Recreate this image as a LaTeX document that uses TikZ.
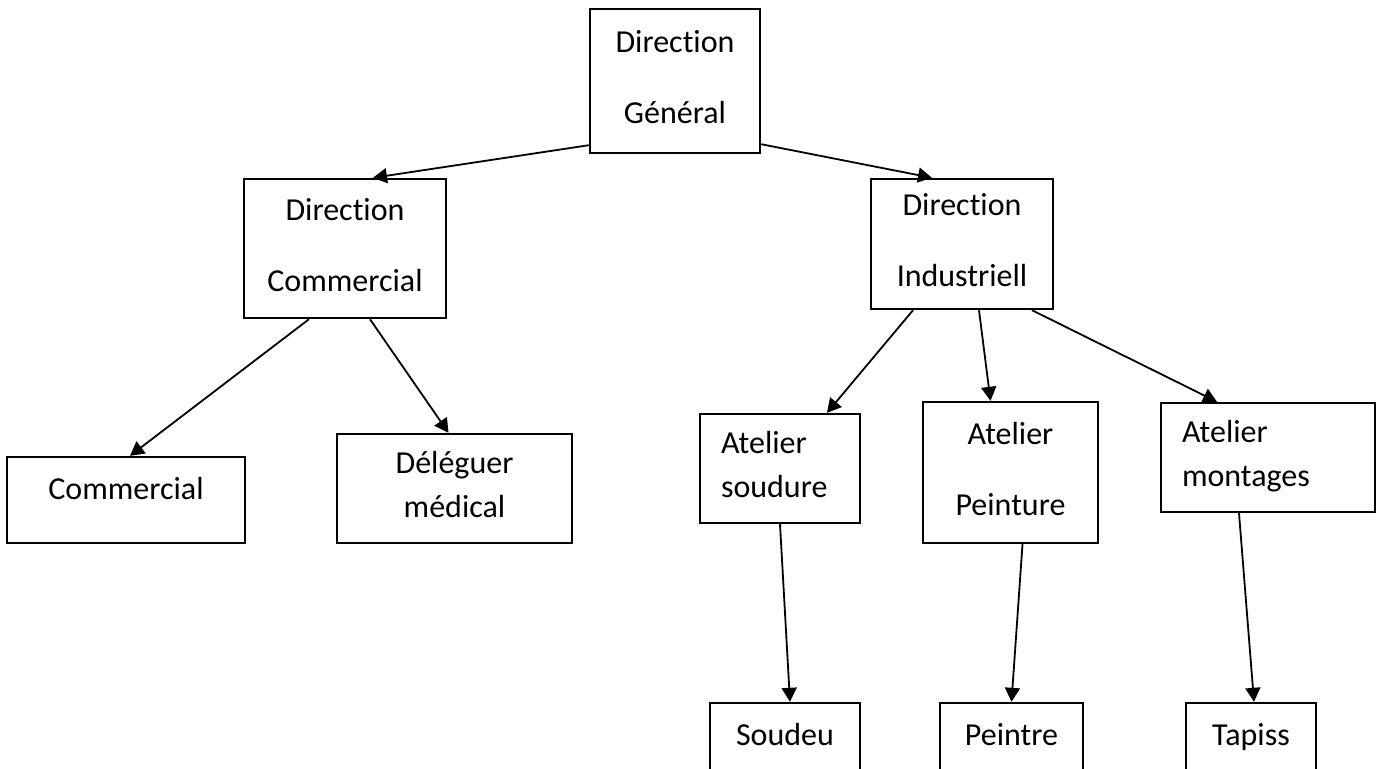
\documentclass[tikz,border=0pt]{standalone}
\usepackage{fontspec}
\setmainfont{Carlito}[Ligatures=NoCommon]
\usetikzlibrary{arrows.meta}

\newcommand\tstrut{\rule{0pt}{11pt}}
\newcommand\bstrut{\rule[-4pt]{0pt}{4pt}}

\begin{document}
\begin{tikzpicture}[x=0.5pt, y=-0.5pt,
    box/.style={draw, line width=1.2pt, inner sep=0pt, align=center,
      font=\fontsize{16}{22}\selectfont},
    wide/.style={font=\fontsize{16}{35.5}\selectfont},
    flush/.style={align=left, inner xsep=10.5pt},
    link/.style={line width=0.9pt, -{Triangle[length=7pt, width=7.5pt]}}]
	\useasboundingbox (0,0) rectangle (1377,768);
	\clip (0,0) rectangle (1377,768);
	% top level
	\node[box, wide, minimum width=85pt, minimum height=72pt] (dg) at (675,81) {\tstrut Direction\\Général\bstrut};
	% directions
	\node[box, wide, minimum width=101pt, minimum height=69.5pt] (dc) at (345,248.5) {\tstrut Direction\\Commercial\bstrut};
	\node[box, wide, minimum width=91pt, minimum height=65pt] (di) at (962,244) {\tstrut Direction\\Industriell\bstrut};
	% commercial side
	\node[box, minimum width=119pt, minimum height=43pt, text depth=12pt] (com) at (126,500) {\tstrut Commercial};
	\node[box, minimum width=117.5pt, minimum height=54.5pt] (del) at (454.5,488.5) {\tstrut Déléguer\\médical\bstrut};
	% ateliers
	\node[box, flush, text width=59pt, minimum width=80pt, minimum height=54.5pt] (as) at (780,468.5) {\tstrut Atelier\\soudure\bstrut};
	\node[box, wide, minimum width=87.5pt, minimum height=70.5pt] (ap) at (1010.5,472.5) {\tstrut Atelier\\Peinture\bstrut};
	\node[box, flush, text width=86pt, minimum width=107pt, minimum height=54.5pt] (am) at (1268,457.5) {\tstrut Atelier\\montages\bstrut};
	% workers
	\node[box, minimum width=75pt, minimum height=35pt] (sd) at (785,738) {\tstrut Soudeu\bstrut};
	\node[box, minimum width=71.5pt, minimum height=35pt] (pt) at (1011.5,738) {\tstrut Peintre\bstrut};
	\node[box, minimum width=65pt, minimum height=35pt] (tp) at (1251,738) {\tstrut Tapiss\bstrut};
	% links
	\draw[link] ([yshift=4.5pt]dg.south west) -- ([xshift=14pt]dc.north);
	\draw[link] ([yshift=5pt]dg.south east) -- ([xshift=-15pt]di.north);
	\draw[link] ([xshift=-18pt]dc.south) -- ([xshift=2pt]com.north);
	\draw[link] ([xshift=12.5pt]dc.south) -- ([xshift=-3pt]del.north);
	\draw[link] ([xshift=-24.5pt]di.south) -- ([xshift=23.5pt]as.north);
	\draw[link] ([xshift=8.5pt]di.south) -- ([xshift=-10pt]ap.north);
	\draw[link] ([xshift=35pt]di.south) -- ([xshift=-25.5pt]am.north);
	\draw[link] (as.south) -- ([xshift=2.5pt]sd.north);
	\draw[link] ([xshift=6pt]ap.south) -- (pt.north);
	\draw[link] ([xshift=-14.5pt]am.south) -- ([xshift=1.5pt]tp.north);
\end{tikzpicture}
\end{document}
